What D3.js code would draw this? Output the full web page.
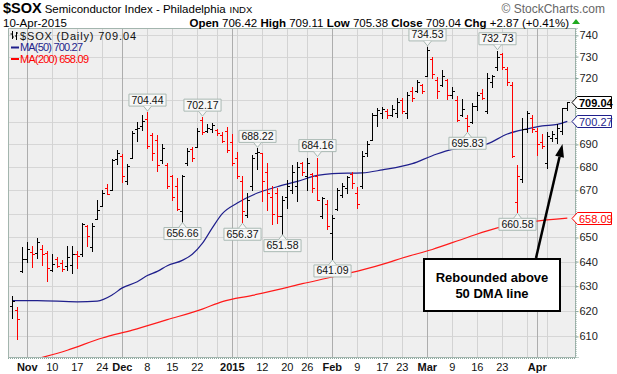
<!DOCTYPE html>
<html>
<head>
<meta charset="utf-8">
<script src="https://cdn.jsdelivr.net/npm/d3@7"></script>
<style>
  body { margin: 0; background: #fff; }
  text { font-family: "Liberation Sans", Arial, sans-serif; }
</style>
</head>
<body>
<div id="chart"></div>
<script>
// daily bars, $SOX, 29-Oct-2014 .. 10-Apr-2015
var dates = [
  "2014-10-29","2014-10-30","2014-10-31",
  "2014-11-03","2014-11-04","2014-11-05","2014-11-06","2014-11-07",
  "2014-11-10","2014-11-11","2014-11-12","2014-11-13","2014-11-14",
  "2014-11-17","2014-11-18","2014-11-19","2014-11-20","2014-11-21",
  "2014-11-24","2014-11-25","2014-11-26","2014-11-28",
  "2014-12-01","2014-12-02","2014-12-03","2014-12-04","2014-12-05",
  "2014-12-08","2014-12-09","2014-12-10","2014-12-11","2014-12-12",
  "2014-12-15","2014-12-16","2014-12-17","2014-12-18","2014-12-19",
  "2014-12-22","2014-12-23","2014-12-24","2014-12-26",
  "2014-12-29","2014-12-30","2014-12-31",
  "2015-01-02","2015-01-05","2015-01-06","2015-01-07","2015-01-08","2015-01-09",
  "2015-01-12","2015-01-13","2015-01-14","2015-01-15","2015-01-16",
  "2015-01-20","2015-01-21","2015-01-22","2015-01-23",
  "2015-01-26","2015-01-27","2015-01-28","2015-01-29","2015-01-30",
  "2015-02-02","2015-02-03","2015-02-04","2015-02-05","2015-02-06",
  "2015-02-09","2015-02-10","2015-02-11","2015-02-12","2015-02-13",
  "2015-02-17","2015-02-18","2015-02-19","2015-02-20",
  "2015-02-23","2015-02-24","2015-02-25","2015-02-26","2015-02-27",
  "2015-03-02","2015-03-03","2015-03-04","2015-03-05","2015-03-06",
  "2015-03-09","2015-03-10","2015-03-11","2015-03-12","2015-03-13",
  "2015-03-16","2015-03-17","2015-03-18","2015-03-19","2015-03-20",
  "2015-03-23","2015-03-24","2015-03-25","2015-03-26","2015-03-27",
  "2015-03-30","2015-03-31",
  "2015-04-01","2015-04-02",
  "2015-04-06","2015-04-07","2015-04-08","2015-04-09","2015-04-10"
];

var opens = [
  622.0, 620.5, 636.0,
  641.0, 644.0, 643.5, 645.0, 643.4,
  636.4, 641.0, 639.6, 638.0, 638.7,
  643.0, 643.0, 655.0, 646.0, 657.6,
  663.3, 671.0, 670.1, 683.5,
  685.0, 674.0, 684.0, 697.0, 698.0,
  701.5, 694.0, 692.0, 683.0, 681.0,
  676.0, 672.0, 661.0, 682.0, 688.0,
  689.0, 701.0, 696.0, 697.0,
  696.5, 694.0, 696.0,
  691.0, 684.0, 674.0, 659.5, 672.0, 686.0,
  686.0, 678.0, 667.0, 669.0, 659.0,
  667.0, 670.0, 672.0, 682.0,
  676.0, 677.0, 676.0, 659.0, 664.0,
  652.0, 662.0, 668.0, 671.0, 677.0,
  669.0, 672.0, 686.0, 692.0, 703.0,
  704.0, 705.0, 703.0, 704.0,
  710.0, 704.0, 714.0, 714.0, 717.0,
  721.0, 729.0, 719.0, 717.0, 719.0,
  712.0, 710.0, 703.0, 702.0, 700.0,
  707.0, 713.0, 705.0, 718.0, 725.0,
  731.0, 724.0, 717.0, 665.0, 675.0,
  697.0, 702.0,
  696.0, 691.0,
  682.0, 693.0, 693.0, 696.0, 706.42
];
var highs = [
  626.0, 621.5, 646.0,
  648.3, 646.6, 649.7, 647.0, 644.2,
  643.2, 642.1, 640.7, 646.5, 646.3,
  644.4, 656.2, 655.3, 656.2, 665.6,
  670.1, 672.6, 683.5, 687.3,
  685.7, 681.3, 696.1, 700.0, 703.2,
  704.44, 695.0, 694.2, 690.0, 681.8,
  676.7, 675.2, 676.7, 688.2, 689.0,
  697.2, 702.17, 699.0, 699.7,
  697.0, 695.5, 697.7,
  694.6, 686.8, 676.0, 668.6, 685.5, 688.22,
  686.0, 681.7, 672.0, 670.9, 667.4,
  674.5, 681.0, 682.4, 682.4,
  683.9, 677.3, 684.16, 667.3, 665.9,
  659.4, 670.9, 673.0, 676.2, 678.0,
  671.5, 687.0, 691.4, 704.0, 706.3,
  706.6, 705.8, 707.8, 711.0,
  711.0, 713.4, 715.8, 719.0, 717.4,
  734.53, 729.6, 720.5, 723.9, 719.7,
  716.1, 711.8, 710.2, 703.3, 708.6,
  713.4, 715.0, 722.2, 721.4, 732.73,
  731.7, 725.0, 718.0, 681.0, 702.0,
  704.8, 703.0,
  697.4, 694.5,
  695.3, 696.0, 698.9, 706.4, 709.11
];
var lows = [
  617.3, 609.0, 635.6,
  640.0, 637.6, 641.4, 638.7, 631.9,
  636.0, 637.6, 636.0, 636.4, 635.3,
  637.3, 642.4, 646.3, 644.2, 657.6,
  663.3, 668.2, 670.1, 681.3,
  673.7, 672.6, 683.9, 691.5, 696.4,
  688.3, 683.2, 678.1, 682.0, 670.9,
  665.6, 661.6, 656.66, 681.0, 682.5,
  689.0, 694.7, 695.4, 695.7,
  694.2, 691.0, 686.8,
  681.0, 675.2, 656.37, 658.5, 670.0, 679.0,
  665.2, 661.6, 655.6, 656.0, 651.58,
  662.5, 668.6, 665.2, 676.6,
  670.2, 669.4, 665.9, 658.3, 653.6,
  641.09, 661.6, 667.3, 668.6, 670.9,
  662.5, 671.0, 684.8, 692.0, 698.1,
  701.8, 701.8, 702.5, 702.1,
  704.0, 701.8, 709.7, 713.4, 712.9,
  720.8, 720.2, 711.0, 716.2, 710.2,
  711.0, 700.6, 702.5, 695.83, 699.5,
  705.5, 710.2, 704.0, 715.8, 723.7,
  724.0, 717.0, 684.4, 660.58, 673.5,
  695.3, 695.3,
  685.2, 688.5,
  679.8, 691.5, 690.8, 694.6, 705.38
];
var closes = [
  624.2, 617.0, 641.0,
  645.0, 643.0, 648.0, 643.2, 637.3,
  639.0, 638.3, 637.0, 642.0, 643.0,
  642.4, 655.5, 650.4, 655.0, 661.6,
  669.0, 668.5, 683.0, 686.0,
  676.0, 680.5, 695.0, 697.5, 700.5,
  689.5, 686.0, 681.0, 688.5, 672.0,
  667.0, 662.0, 676.0, 687.0, 684.0,
  696.0, 695.5, 697.5, 698.5,
  695.0, 691.5, 687.5,
  682.0, 676.0, 661.0, 666.0, 684.0, 686.5,
  674.0, 669.0, 660.0, 659.0, 666.0,
  672.0, 678.0, 680.0, 678.0,
  682.0, 671.0, 666.0, 666.5, 655.0,
  658.0, 670.0, 672.0, 675.5, 673.0,
  664.0, 685.0, 690.0, 703.0, 705.5,
  706.0, 703.0, 706.0, 709.0,
  705.0, 712.0, 711.0, 718.0, 714.0,
  733.0, 722.0, 714.0, 721.0, 712.0,
  714.0, 701.0, 706.0, 698.0, 707.0,
  712.0, 711.0, 720.0, 721.0, 730.0,
  725.0, 718.0, 685.0, 676.0, 697.0,
  704.0, 697.0,
  690.0, 689.5,
  693.5, 694.5, 697.5, 706.17, 709.04
];
var priorClose = 621.0;   // close before the first bar

// moving averages at a few dates
var ma50Dates = ["2014-10-29","2014-11-05","2014-11-17","2014-11-21","2014-11-26","2014-12-01",
  "2014-12-04","2014-12-08","2014-12-10","2014-12-12","2014-12-17","2014-12-19","2014-12-23",
  "2014-12-26","2014-12-30","2015-01-05","2015-01-09","2015-01-15","2015-01-22","2015-01-28",
  "2015-02-02","2015-02-10","2015-02-17","2015-02-25","2015-03-03","2015-03-09","2015-03-13",
  "2015-03-18","2015-03-24","2015-03-30","2015-04-02","2015-04-08","2015-04-10"];
var ma50 = [624.2, 624.2, 623.7, 624.0, 626.5, 629.3,
  631.8, 634.3, 636.0, 638.3, 640.5, 643.0, 647.5,
  654.0, 660.0, 664.5, 668.8, 671.5, 673.8, 676.4,
  677.2, 677.5, 678.8, 681.5, 685.0, 687.8, 688.6,
  690.2, 694.6, 696.9, 698.2, 698.9, 700.27];

var ma200Dates = ["2014-10-29","2014-11-13","2014-11-24","2014-12-03","2014-12-12","2014-12-23",
  "2014-12-30","2015-01-08","2015-01-16","2015-01-23","2015-02-02","2015-02-10","2015-02-18",
  "2015-02-23","2015-03-03","2015-03-12","2015-03-20","2015-03-31","2015-04-10"];
var ma200 = [599.0, 604.6, 609.4, 612.5, 616.6, 620.8,
  623.8, 626.3, 629.0, 631.0, 633.7, 636.6, 639.5,
  641.5, 645.0, 650.0, 654.0, 656.6, 658.09];

var yTicks = [610, 620, 630, 640, 650, 660, 670, 680, 690, 700, 710, 720, 730, 740];
var xTickDates = ["2014-11-03","2014-11-10","2014-11-17","2014-11-24","2014-12-01","2014-12-08",
  "2014-12-15","2014-12-22","2015-01-02","2015-01-12","2015-01-20","2015-01-26","2015-02-02",
  "2015-02-09","2015-02-17","2015-02-23","2015-03-02","2015-03-09","2015-03-16","2015-03-23","2015-04-01"];
var xTickLabels = ["Nov","10","17","24","Dec","8","15","22","2015","12","20","26","Feb",
  "9","17","23","Mar","9","16","23","Apr"];

// high / low call-outs (dates of the marked bars)
var highMarks = ["2014-12-08","2014-12-23","2015-01-09","2015-01-28","2015-03-02","2015-03-20"];
var lowMarks = ["2014-12-17","2015-01-06","2015-01-16","2015-02-02","2015-03-12","2015-03-26"];

var W = 617, H = 374;
var box = { left: 8, right: 575, top: 28, bottom: 357 };

var svg = d3.select("#chart").append("svg")
    .attr("width", W)
    .attr("height", H);

var x = d3.scalePoint().domain(dates).range([12.3, 567.3]);
var y = d3.scaleLog().domain([602, 743.5]).range([box.bottom, box.top]);

var parse = d3.timeParse("%Y-%m-%d");
var fmt2 = d3.format(".2f");
var last = closes.length - 1;
var tagValues = [closes[last], ma50[ma50.length - 1], ma200[ma200.length - 1]];

// plot background
svg.append("rect")
    .attr("x", box.left).attr("y", box.top)
    .attr("width", box.right - box.left).attr("height", box.bottom - box.top)
    .attr("fill", "#efefef");

// horizontal grid
svg.append("g").selectAll("line")
    .data(yTicks)
    .enter().append("line")
    .attr("x1", box.left).attr("x2", box.right)
    .attr("y1", d => Math.round(y(d)) + 0.5)
    .attr("y2", d => Math.round(y(d)) + 0.5)
    .attr("stroke", "#d6d6d6");

// vertical grid: first day of each week and of each month
var gridDays = [];
dates.forEach((d, i) => {
    if (i === 0) return;
    var a = parse(dates[i - 1]), b = parse(d);
    var newMonth = a.getMonth() !== b.getMonth();
    var newWeek = +d3.timeMonday.floor(a) !== +d3.timeMonday.floor(b);
    if (newMonth || newWeek) gridDays.push({ d: d, month: newMonth });
});
svg.append("g").selectAll("line")
    .data(gridDays)
    .enter().append("line")
    .attr("x1", d => Math.round(x(d.d)) + 0.5)
    .attr("x2", d => Math.round(x(d.d)) + 0.5)
    .attr("y1", box.top).attr("y2", box.bottom)
    .attr("stroke", d => d.month ? "#adadad" : "#d3d3d3");

svg.append("clipPath").attr("id", "clip")
    .append("rect")
    .attr("x", box.left).attr("y", box.top)
    .attr("width", box.right - box.left).attr("height", box.bottom - box.top);

var plot = svg.append("g").attr("clip-path", "url(#clip)");

// moving averages
var maLine = d3.line()
    .x(d => x(d[0]))
    .y(d => y(d[1]))
    .curve(d3.curveMonotoneX);

plot.append("path")
    .datum(d3.zip(ma200Dates, ma200))
    .attr("d", maLine)
    .attr("fill", "none")
    .attr("stroke", "#ff1a1a")
    .attr("stroke-width", 1.2);

plot.append("path")
    .datum(d3.zip(ma50Dates, ma50))
    .attr("d", maLine)
    .attr("fill", "none")
    .attr("stroke", "#1f1f8c")
    .attr("stroke-width", 1.2);

// OHLC bars
var bars = dates.map((d, i) => ({
    d: d, o: opens[i], h: highs[i], l: lows[i], c: closes[i],
    up: closes[i] >= (i === 0 ? priorClose : closes[i - 1])
}));

plot.append("g").selectAll("path")
    .data(bars)
    .enter().append("path")
    .attr("d", b => {
        var xc = Math.round(x(b.d)),
            yh = Math.round(y(b.h)), yl = Math.round(y(b.l)),
            yo = Math.round(y(b.o)) + 0.5, yc = Math.round(y(b.c)) + 0.5;
        return "M" + (xc + 0.5) + "," + yh + "V" + (yl + 1) +
            "M" + (xc - 2) + "," + yo + "H" + xc +
            "M" + (xc + 1) + "," + yc + "H" + (xc + 3);
    })
    .attr("fill", "none")
    .attr("stroke", b => b.up ? "#000" : "#ff0000")
    .attr("stroke-width", 1);

// high / low call-outs
function callout(d, value, isHigh) {
    var cx = Math.round(x(d)) + 0.5;
    var vy = y(value);
    var g = svg.append("g");
    var t = g.append("text")
        .attr("x", cx)
        .attr("text-anchor", "middle")
        .attr("font-size", 10.5)
        .attr("fill", "#111")
        .text(fmt2(value));
    var w = t.node().getComputedTextLength() + 5, h = 12;
    var by = isHigh ? vy - 3 - h - 3 : vy + 3 + 3;
    var tipY = isHigh ? vy - 1 : vy + 1;
    var baseY = isHigh ? by + h : by;
    g.insert("path", "text")
        .attr("d", "M" + (cx - w / 2) + "," + by + "h" + w + "v" + h + "h" + (-w) + "Z")
        .attr("fill", "#f7f7f7")
        .attr("stroke", "#a9b9b3");
    g.insert("path", "text")
        .attr("d", "M" + (cx - 4) + "," + baseY + "L" + cx + "," + tipY + "L" + (cx + 4) + "," + baseY)
        .attr("fill", "#f7f7f7")
        .attr("stroke", "#a9b9b3");
    t.attr("y", by + h - 2.5);
}
highMarks.forEach(d => callout(d, highs[dates.indexOf(d)], true));
lowMarks.forEach(d => callout(d, lows[dates.indexOf(d)], false));

// frame
svg.append("rect")
    .attr("x", box.left + 0.5).attr("y", box.top + 0.5)
    .attr("width", box.right - box.left).attr("height", box.bottom - box.top)
    .attr("fill", "none")
    .attr("stroke", "#a3b5ae");

// right axis (labels hidden behind the value tags are left out)
var yAxis = d3.axisRight(y)
    .tickValues(yTicks)
    .tickFormat(d => tagValues.some(v => Math.abs(y(v) - y(d)) < 10) ? "" : d3.format("d")(d))
    .tickSize(3)
    .tickPadding(1);
var ya = svg.append("g")
    .attr("transform", "translate(" + (box.right + 0.5) + ",0)")
    .call(yAxis);
ya.select(".domain").attr("stroke", "#8aa79d").attr("stroke-dasharray", "1,1");
ya.selectAll(".tick line").attr("stroke", "#8aa79d");
ya.selectAll("text")
    .attr("font-family", "Liberation Sans, Arial, sans-serif")
    .attr("font-size", 11)
    .attr("fill", "#222");

// bottom axis labels
var xb = svg.append("g");
xb.append("line")
    .attr("x1", box.left).attr("x2", box.right + 1)
    .attr("y1", box.bottom + 1.5).attr("y2", box.bottom + 1.5)
    .attr("stroke", "#8aa79d").attr("stroke-dasharray", "1,1");
xb.selectAll("text")
    .data(d3.zip(xTickDates, xTickLabels))
    .enter().append("text")
    .attr("x", d => x(d[0]))
    .attr("y", 371)
    .attr("text-anchor", "middle")
    .attr("font-size", 11)
    .attr("font-weight", d => /^\d{1,2}$/.test(d[1]) ? "normal" : "bold")
    .attr("fill", "#111")
    .text(d => d[1]);

// last-value tags on the axis
function valueTag(value, color, textColor, bold) {
    var yy = Math.round(y(value)) + 0.5;
    var g = svg.append("g");
    g.append("path")
        .attr("d", "M" + 572 + "," + yy + "L" + 577.5 + "," + (yy - 6) + "H" + 611.5 + "V" + (yy + 6) + "H" + 577.5 + "Z")
        .attr("fill", "#fff")
        .attr("stroke", color);
    g.append("text")
        .attr("x", 579).attr("y", yy + 4)
        .attr("font-size", 11)
        .attr("font-weight", bold ? "bold" : "normal")
        .attr("fill", textColor)
        .text(fmt2(value));
}
valueTag(tagValues[2], "#ff0000", "#ff0000", false);
valueTag(tagValues[1], "#1f1f8c", "#1f1f8c", false);
valueTag(tagValues[0], "#000", "#000", true);

// legend
var lg = svg.append("g");
lg.append("path")
    .attr("d", "M12.5,31V39M10.5,34H12.5M12.5,37H14M16.5,32V40M15,36H16.5M16.5,33H18")
    .attr("stroke", "#000").attr("fill", "none");
lg.append("text")
    .attr("x", 20).attr("y", 39.5)
    .attr("font-family", "DejaVu Sans, sans-serif")
    .attr("font-size", 11)
    .attr("textLength", 116)
    .attr("lengthAdjust", "spacing")
    .attr("fill", "#111")
    .text("$SOX (Daily) " + fmt2(closes[last]));
lg.append("line").attr("x1", 11).attr("x2", 19).attr("y1", 47.5).attr("y2", 47.5)
    .attr("stroke", "#1f1f8c").attr("stroke-width", 2);
lg.append("text")
    .attr("x", 20).attr("y", 51)
    .attr("font-size", 11)
    .attr("textLength", 63)
    .attr("lengthAdjust", "spacing")
    .attr("fill", "#1f1f8c")
    .text("MA(50) " + fmt2(tagValues[1]));
lg.append("line").attr("x1", 11).attr("x2", 19).attr("y1", 59).attr("y2", 59)
    .attr("stroke", "#ff0000").attr("stroke-width", 2);
lg.append("text")
    .attr("x", 20).attr("y", 63)
    .attr("font-size", 11)
    .attr("textLength", 69)
    .attr("lengthAdjust", "spacing")
    .attr("fill", "#ff0000")
    .text("MA(200) " + fmt2(tagValues[2]));

// header
var t1 = svg.append("text").attr("x", 3).attr("y", 13)
    .attr("font-size", 14.5).attr("font-weight", "bold").text("$SOX");
var t1w = t1.node().getComputedTextLength();
var t2 = svg.append("text").attr("x", 3 + t1w + 3).attr("y", 13)
    .attr("font-size", 11.5).text("Semiconductor Index - Philadelphia");
var t2w = t2.node().getComputedTextLength();
svg.append("text").attr("x", 3 + t1w + 3 + t2w + 4).attr("y", 13)
    .attr("font-size", 9.5).text("INDX");
svg.append("text").attr("x", 605).attr("y", 13)
    .attr("text-anchor", "end")
    .attr("font-size", 12).attr("fill", "#666").text("\u00a9 StockCharts.com");
svg.append("text").attr("x", 3).attr("y", 26.5)
    .attr("font-size", 11.5).text("10-Apr-2015");

var chg = closes[last] - closes[last - 1];
var info = svg.append("text").attr("x", 569).attr("y", 26.5)
    .attr("text-anchor", "end").attr("font-size", 11.5);
[["Open", opens[last]], ["High", highs[last]], ["Low", lows[last]], ["Close", closes[last]]].forEach(p => {
    info.append("tspan").attr("font-weight", "bold").text(p[0] + " ");
    info.append("tspan").text(fmt2(p[1]) + " ");
});
info.append("tspan").attr("font-weight", "bold").text("Chg ");
info.append("tspan").text(d3.format("+.2f")(chg) + " (" + d3.format("+.2%")(chg / closes[last - 1]) + ")");
svg.append("path").attr("d", "M572,24L576,19L580,24Z").attr("fill", "#1faa1f");

// annotation
svg.append("rect")
    .attr("x", 424).attr("y", 259)
    .attr("width", 136).attr("height", 52)
    .attr("fill", "#fff").attr("stroke", "#000").attr("stroke-width", 2);
svg.append("text").attr("x", 492).attr("y", 282)
    .attr("text-anchor", "middle").attr("font-size", 13).attr("font-weight", "bold")
    .text("Rebounded above");
svg.append("text").attr("x", 492).attr("y", 298)
    .attr("text-anchor", "middle").attr("font-size", 13).attr("font-weight", "bold")
    .text("50 DMA line");

var tail = [536, 258], tip = [562.5, 144];
var dx = tip[0] - tail[0], dy = tip[1] - tail[1], len = Math.hypot(dx, dy);
var ux = dx / len, uy = dy / len;
var hb = [tip[0] - ux * 13, tip[1] - uy * 13];
svg.append("line")
    .attr("x1", tail[0]).attr("y1", tail[1])
    .attr("x2", hb[0]).attr("y2", hb[1])
    .attr("stroke", "#000").attr("stroke-width", 2.5);
svg.append("path")
    .attr("d", "M" + tip + "L" + (hb[0] - uy * 4.5) + "," + (hb[1] + ux * 4.5) +
        "L" + (hb[0] + uy * 4.5) + "," + (hb[1] - ux * 4.5) + "Z")
    .attr("fill", "#000");
</script>
</body>
</html>
